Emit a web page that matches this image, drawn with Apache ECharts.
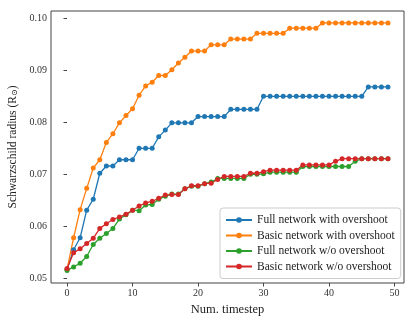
<!DOCTYPE html>
<html>
<head>
<meta charset="utf-8">
<title>Schwarzschild radius</title>
<script src="https://cdn.jsdelivr.net/npm/echarts@6/dist/echarts.min.js"></script>
<style>
	html,body{margin:0;padding:0;background:#fff;}
	#chart{width:415px;height:323px;}
</style>
</head>
<body>
<div id="chart"></div>
<script>
	// 数据
	var steps=[];
	for(var i=0;i<50;i++) steps.push(i);

	var fullOver=[0.0517,0.0555,0.0578,0.0631,0.0652,0.0702,0.0716,0.0716,0.0728,0.0728,
		0.0728,0.0750,0.0750,0.0750,0.0772,0.0785,0.0799,0.0799,0.0799,0.0799,
		0.0811,0.0811,0.0811,0.0811,0.0811,0.0825,0.0825,0.0825,0.0825,0.0825,
		0.0850,0.0850,0.0850,0.0850,0.0850,0.0850,0.0850,0.0850,0.0850,0.0850,
		0.0850,0.0850,0.0850,0.0850,0.0850,0.0850,0.0868,0.0868,0.0868,0.0868];
	var basicOver=[0.0517,0.0578,0.0632,0.0673,0.0712,0.0728,0.0761,0.0778,0.0799,0.0813,
		0.0826,0.0852,0.0870,0.0877,0.0890,0.0890,0.0901,0.0914,0.0925,0.0937,
		0.0937,0.0937,0.0949,0.0949,0.0949,0.0960,0.0960,0.0960,0.0960,0.0971,
		0.0971,0.0971,0.0971,0.0971,0.0981,0.0981,0.0981,0.0981,0.0981,0.0991,
		0.0991,0.0991,0.0991,0.0991,0.0991,0.0991,0.0991,0.0991,0.0991,0.0991];
	var fullNo=[0.0515,0.0522,0.0529,0.0542,0.0565,0.0577,0.0586,0.0596,0.0614,0.0622,
		0.0631,0.0630,0.0641,0.0642,0.0652,0.0658,0.0662,0.0662,0.0672,0.0677,
		0.0677,0.0682,0.0685,0.0692,0.0692,0.0692,0.0692,0.0692,0.0700,0.0700,
		0.0701,0.0704,0.0704,0.0704,0.0704,0.0704,0.0715,0.0715,0.0715,0.0715,
		0.0715,0.0715,0.0715,0.0715,0.0725,0.0730,0.0730,0.0730,0.0730,0.0730];
	var basicNo=[0.0519,0.0549,0.0557,0.0567,0.0577,0.0596,0.0605,0.0613,0.0618,0.0623,
		0.0631,0.0639,0.0645,0.0648,0.0654,0.0660,0.0661,0.0661,0.0672,0.0678,
		0.0678,0.0682,0.0683,0.0690,0.0696,0.0696,0.0696,0.0696,0.0702,0.0702,
		0.0705,0.0708,0.0708,0.0708,0.0708,0.0708,0.0718,0.0718,0.0718,0.0718,
		0.0718,0.0725,0.0730,0.0730,0.0730,0.0730,0.0730,0.0730,0.0730,0.0730];

	var xTicks=[0,10,20,30,40,50];
	var yTicks=[0.05,0.06,0.07,0.08,0.09,0.10];

	var names=["Full network with overshoot","Basic network with overshoot",
		"Full network w/o overshoot","Basic network w/o overshoot"];
	var colors=["#1f77b4","#ff7f0e","#2ca02c","#d62728"];
	var serif="'Liberation Serif','DejaVu Serif',serif";

	function pairs(y){
		var arr=[];
		for(var i=0;i<steps.length;i++) arr.push([steps[i],y[i]]);
		return arr;
	}

	function makeSeries(name,y,color){
		return {
			name:name,
			type:'line',
			data:pairs(y),
			symbol:'circle',
			symbolSize:5,
			showSymbol:true,
			itemStyle:{color:color},
			lineStyle:{color:color,width:1.3},
			emphasis:{disabled:true}
		};
	}

	var chart=echarts.init(document.getElementById("chart"),null,{renderer:'canvas'});
	var option={
		animation:false,
		color:colors,
		grid:{left:51,top:11,right:11,bottom:40,outerBoundsMode:'none',containLabel:false,
			show:true,borderColor:'#444',borderWidth:1,backgroundColor:'transparent'},
		xAxis:{
			type:'value',
			min:-2.45,
			max:51.45,
			name:'Num. timestep',
			nameLocation:'middle',
			nameGap:16,
			nameTextStyle:{fontFamily:serif,fontSize:12.5,color:'#222'},
			axisLine:{show:false},
			axisTick:{show:true,length:3.5,lineStyle:{color:'#444'},customValues:xTicks},
			axisLabel:{fontFamily:serif,fontSize:10,color:'#333',margin:5,customValues:xTicks},
			splitLine:{show:false}
		},
		yAxis:{
			type:'value',
			min:0.0491,
			max:0.1014,
			name:'Schwarzschild radius (R{sub|⊙})',
			nameLocation:'middle',
			nameGap:32,
			nameTextStyle:{fontFamily:serif,fontSize:11.5,color:'#222',
				rich:{sub:{fontFamily:serif,fontSize:8,color:'#222',verticalAlign:'bottom',padding:[4,0,0,0]}}},
			axisLine:{show:false},
			axisTick:{show:true,length:3.5,lineStyle:{color:'#444'},customValues:yTicks},
			axisLabel:{fontFamily:serif,fontSize:10,color:'#333',margin:4,customValues:yTicks,
				formatter:function(v){return v.toFixed(2);}},
			splitLine:{show:false}
		},
		legend:{
			data:names,
			orient:'vertical',
			left:220,
			top:208,
			padding:[6,6,6,5],
			itemWidth:26,
			itemHeight:7,
			itemGap:3.5,
			backgroundColor:'#fff',
			borderColor:'#ccc',
			borderWidth:1,
			borderRadius:3,
			textStyle:{fontFamily:serif,fontSize:11.5,color:'#222'}
		},
		series:[
			makeSeries(names[0],fullOver,colors[0]),
			makeSeries(names[1],basicOver,colors[1]),
			makeSeries(names[2],fullNo,colors[2]),
			makeSeries(names[3],basicNo,colors[3])
		]
	};
	chart.setOption(option);
</script>
</body>
</html>
